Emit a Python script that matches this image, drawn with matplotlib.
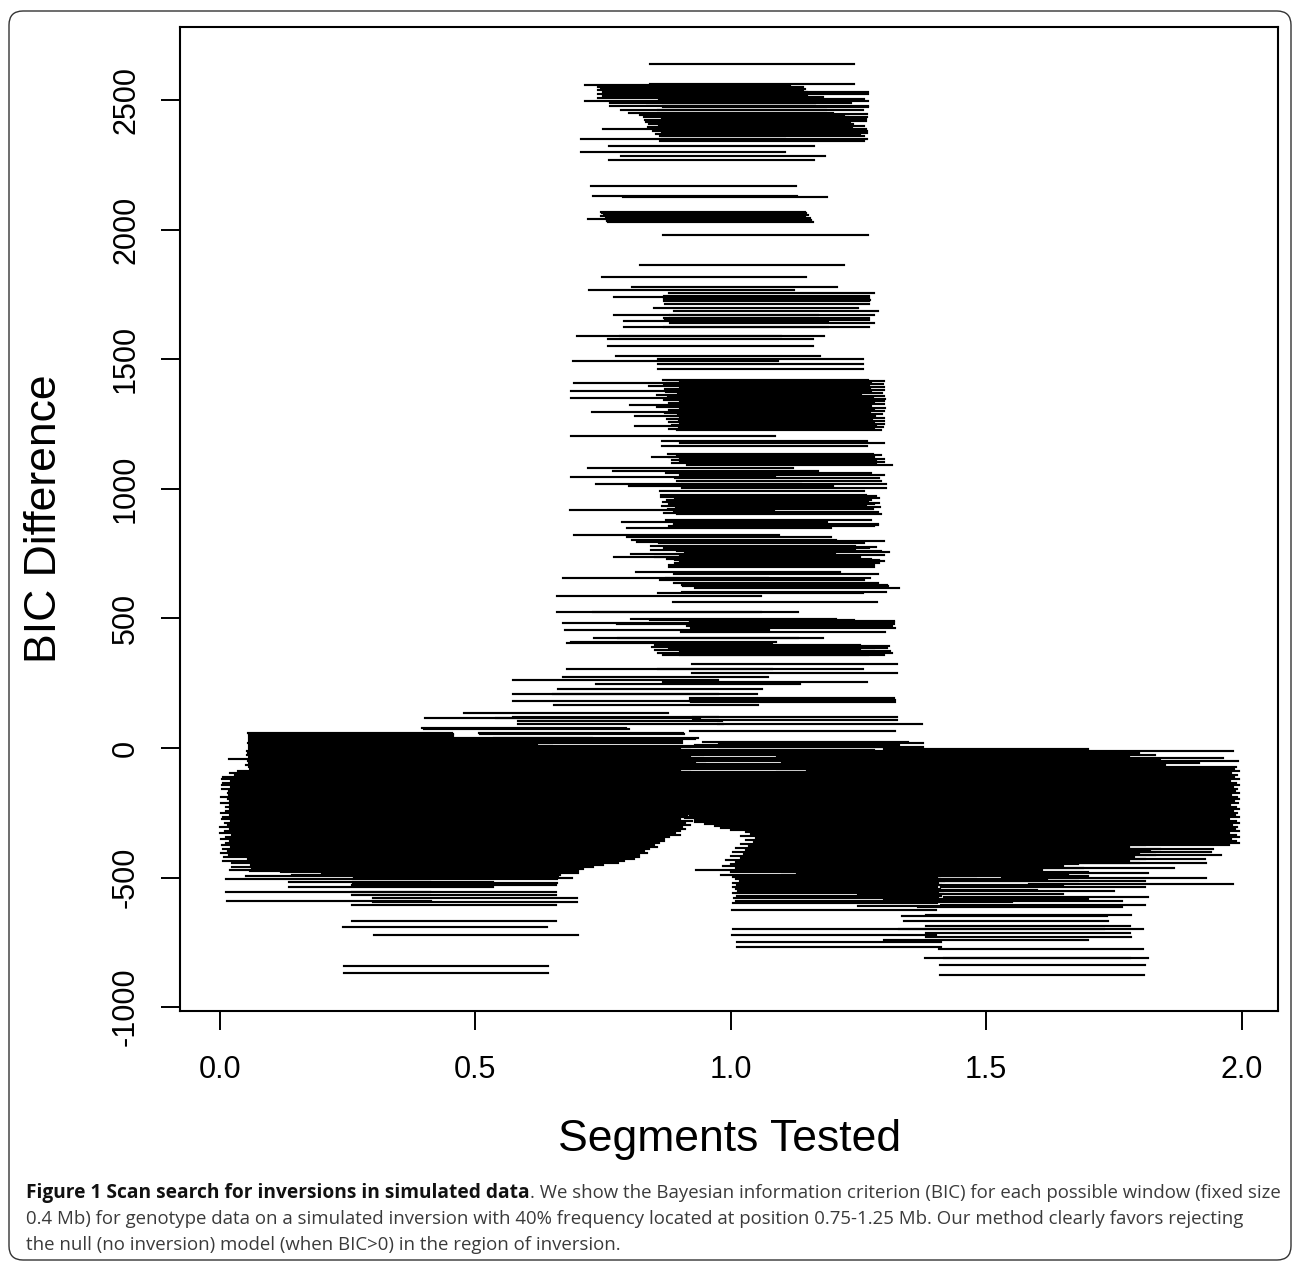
import numpy as np
import matplotlib
matplotlib.use("Agg")
import matplotlib.pyplot as plt
from matplotlib.collections import LineCollection
from matplotlib.patches import FancyBboxPatch
from matplotlib.transforms import IdentityTransform

# window size (Mb) of every tested segment
WINDOW = 0.4

# (window start in Mb, BIC difference)
hump_top = [
    (0.842, 2640), (0.842, 2563), (0.715, 2557), (0.741, 2550), (0.745, 2544), (0.741, 2538),
    (0.75, 2533), (0.868, 2530), (0.741, 2525), (0.868, 2522), (0.75, 2517), (0.78, 2512),
    (0.741, 2507), (0.86, 2505), (0.715, 2497), (0.868, 2497), (0.764, 2488), (0.836, 2490),
    (0.764, 2478), (0.868, 2478), (0.868, 2472), (0.786, 2460), (0.858, 2462), (0.8, 2452),
    (0.822, 2443), (0.866, 2446), (0.83, 2434), (0.866, 2436), (0.832, 2424), (0.865, 2428),
    (0.834, 2415), (0.865, 2418), (0.84, 2406), (0.837, 2398), (0.86, 2400), (0.749, 2388),
    (0.865, 2390), (0.848, 2379), (0.866, 2382), (0.853, 2369), (0.866, 2372), (0.861, 2360),
    (0.707, 2350), (0.866, 2351), (0.861, 2341), (0.762, 2323), (0.706, 2300), (0.785, 2284),
    (0.762, 2270), (0.727, 2170), (0.73, 2128), (0.789, 2126), (0.745, 2070), (0.748, 2064),
    (0.752, 2058), (0.746, 2052), (0.755, 2046), (0.72, 2041), (0.757, 2038), (0.758, 2032),
    (0.76, 2028), (0.868, 1978),
]

hump_upper = [
    (0.822, 1863), (0.747, 1819), (0.807, 1777), (0.723, 1768), (0.88, 1755), (0.772, 1742),
    (0.87, 1745), (0.87, 1738), (0.87, 1732), (0.872, 1727), (0.87, 1723), (0.871, 1713),
    (0.85, 1697), (0.889, 1688), (0.771, 1669), (0.881, 1670), (0.87, 1660), (0.79, 1649),
    (0.871, 1650), (0.881, 1641), (0.791, 1626), (0.87, 1626), (0.698, 1590), (0.783, 1590),
    (0.76, 1578), (0.76, 1552), (0.775, 1513), (0.858, 1502),
]

hump_mid = [
    (0.692, 1495), (0.858, 1481), (0.858, 1463), (0.868, 1420), (0.9, 1416), (0.694, 1410),
    (0.875, 1410), (0.898, 1405), (0.87, 1400), (0.839, 1395), (0.9, 1392), (0.872, 1387),
    (0.687, 1379), (0.9, 1381), (0.874, 1374), (0.896, 1369), (0.855, 1363), (0.9, 1360),
    (0.687, 1352), (0.878, 1355), (0.902, 1348), (0.87, 1343), (0.9, 1337), (0.88, 1331),
    (0.803, 1324), (0.9, 1327), (0.875, 1320), (0.855, 1314), (0.901, 1311), (0.88, 1305),
    (0.728, 1298), (0.9, 1299), (0.872, 1293), (0.897, 1287), (0.812, 1282), (0.882, 1280),
    (0.9, 1274), (0.876, 1268), (0.899, 1262), (0.88, 1256), (0.9, 1250), (0.812, 1243),
    (0.885, 1245), (0.898, 1238), (0.88, 1232), (0.895, 1228), (0.687, 1204), (0.866, 1186),
    (0.9, 1176), (0.866, 1166), (0.878, 1135), (0.895, 1130), (0.88, 1124), (0.845, 1121),
    (0.9, 1116), (0.885, 1110), (0.9, 1104), (0.885, 1099), (0.915, 1091), (0.721, 1082),
    (0.77, 1069), (0.874, 1060), (0.9, 1052), (0.687, 1045), (0.89, 1040), (0.894, 1031),
    (0.737, 1020), (0.904, 1020), (0.8, 1009), (0.904, 1002),
]

hump_low = [
    (0.861, 992), (0.864, 977), (0.885, 973), (0.864, 970), (0.89, 964), (0.875, 958),
    (0.868, 951), (0.89, 946), (0.88, 940), (0.865, 934), (0.892, 928), (0.878, 922),
    (0.685, 919), (0.888, 912), (0.87, 907), (0.894, 902), (0.874, 880), (0.788, 871),
    (0.888, 866), (0.888, 861), (0.88, 855), (0.797, 848), (0.694, 822), (0.797, 813),
    (0.806, 803), (0.9, 800), (0.816, 796), (0.86, 790), (0.844, 781), (0.885, 775),
    (0.87, 770), (0.844, 764), (0.895, 760), (0.91, 755), (0.804, 748), (0.9, 745),
    (0.772, 736), (0.852, 736), (0.875, 730), (0.891, 726), (0.9, 720), (0.891, 715),
    (0.88, 706), (0.88, 700), (0.814, 678), (0.888, 672), (0.672, 657), (0.873, 655),
    (0.861, 648), (0.888, 636), (0.905, 629), (0.907, 626), (0.929, 616), (0.904, 600),
    (0.858, 599), (0.659, 588), (0.886, 562), (0.659, 524), (0.731, 524), (0.805, 498),
    (0.842, 494), (0.92, 490), (0.92, 485), (0.672, 484), (0.778, 480), (0.92, 478),
    (0.915, 470), (0.922, 462), (0.675, 455), (0.902, 449), (0.732, 423), (0.78, 423),
    (0.688, 408), (0.68, 404), (0.852, 398), (0.91, 395), (0.845, 391), (0.88, 385),
    (0.905, 385), (0.852, 378), (0.912, 375), (0.9, 372), (0.858, 368), (0.915, 365),
    (0.868, 359), (0.9, 358), (0.925, 324), (0.68, 304), (0.858, 304), (0.925, 291),
    (0.672, 273), (0.574, 262), (0.867, 256), (0.736, 247), (0.662, 227), (0.574, 208),
    (0.651, 208), (0.92, 192), (0.921, 186), (0.574, 183), (0.92, 182), (0.922, 177),
    (0.653, 166), (0.478, 136), (0.574, 121), (0.926, 121), (0.54, 116), (0.401, 114),
    (0.926, 108), (0.583, 104), (0.584, 93), (0.975, 91), (0.395, 78), (0.4, 74),
    (0.921, 67), (0.507, 58), (0.509, 52), (0.536, 40), (0.328, 39), (0.505, 27),
    (0.946, 22), (0.977, 18), (0.977, 5),
]

left_edge = [
    (0.055, 58), (0.057, 55), (0.057, 50), (0.056, 43), (0.057, 35), (0.057, 27), (0.055, 19),
    (0.057, 12), (0.056, 4), (0.057, -4), (0.052, -12), (0.055, -19), (0.052, -27),
    (0.056, -35), (0.018, -42), (0.054, -50), (0.056, -58), (0.05, -66), (0.057, -73),
    (0.058, -81), (0.035, -89), (0.02, -96), (0.03, -104), (0.006, -112), (0.004, -120),
    (0.022, -127), (0.005, -135), (0.004, -143), (0.022, -150), (0.004, -158), (0.018, -166),
    (0.016, -174), (0.018, -181), (0.002, -189), (0.016, -197), (0.02, -204), (0.002, -212),
    (0.02, -220), (0.012, -228), (0.02, -235), (0.012, -243), (0.002, -251), (0.02, -258),
    (0.006, -266), (0.004, -274), (0.022, -282), (0.01, -289), (0.016, -297), (0.0, -305),
    (0.02, -312), (0.01, -320), (0.0, -328), (0.024, -336), (0.012, -343), (0.002, -351),
    (0.02, -359), (0.012, -366), (0.004, -374), (0.022, -382), (0.006, -390), (0.016, -397),
    (0.002, -405), (0.018, -413), (0.008, -420), (0.055, -428), (0.006, -436), (0.024, -444),
    (0.06, -451), (0.023, -459), (0.063, -467), (0.058, -475),
]

left_inner = [
    (0.1, 16), (0.14, 8), (0.09, 0), (0.12, -8), (0.15, -15), (0.1, -23), (0.13, -31),
    (0.08, -38), (0.11, -46), (0.14, -54), (0.09, -61), (0.12, -69), (0.15, -77), (0.1, -85),
    (0.13, -92), (0.08, -100), (0.11, -108), (0.14, -116), (0.09, -123), (0.12, -131),
    (0.15, -138), (0.1, -146), (0.13, -154), (0.08, -162), (0.11, -169), (0.14, -177),
    (0.09, -185), (0.12, -192), (0.15, -200), (0.1, -208), (0.13, -216), (0.08, -223),
    (0.11, -231), (0.14, -239), (0.09, -246), (0.12, -254), (0.15, -262), (0.1, -270),
    (0.13, -277), (0.08, -285), (0.11, -293), (0.14, -300), (0.09, -308), (0.12, -316),
    (0.15, -324), (0.1, -331), (0.13, -339), (0.08, -347), (0.11, -354), (0.14, -362),
    (0.09, -370), (0.12, -378), (0.15, -385), (0.1, -393), (0.13, -401), (0.08, -408),
    (0.11, -416), (0.14, -424), (0.09, -431), (0.12, -439), (0.1, -447), (0.13, -455),
    (0.09, -462),
]

left_mid = [
    (0.33, 36), (0.2, 28), (0.25, 20), (0.22, 12), (0.28, 5), (0.19, -3), (0.24, -11),
    (0.3, -18), (0.21, -26), (0.26, -34), (0.18, -41), (0.23, -49), (0.29, -57), (0.2, -64),
    (0.25, -72), (0.22, -80), (0.27, -88), (0.19, -95), (0.24, -103), (0.3, -111),
    (0.21, -118), (0.26, -126), (0.18, -134), (0.23, -141), (0.28, -149), (0.2, -157),
    (0.25, -165), (0.22, -172), (0.27, -180), (0.19, -188), (0.24, -195), (0.29, -203),
    (0.21, -211), (0.26, -218), (0.18, -226), (0.23, -234), (0.28, -241), (0.2, -249),
    (0.25, -257), (0.22, -265), (0.27, -272), (0.19, -280), (0.24, -288), (0.3, -295),
    (0.21, -303), (0.26, -311), (0.18, -318), (0.23, -326), (0.28, -334), (0.2, -342),
    (0.25, -349), (0.22, -357), (0.27, -365), (0.19, -372), (0.24, -380), (0.29, -388),
    (0.21, -395), (0.26, -403), (0.18, -411), (0.23, -418), (0.28, -426), (0.2, -434),
    (0.25, -441), (0.22, -449), (0.27, -457), (0.19, -464), (0.24, -472), (0.12, -480),
    (0.2, -487),
]

left_outer = [
    (0.36, 0), (0.34, -8), (0.39, -16), (0.35, -23), (0.37, -31), (0.4, -39), (0.34, -47),
    (0.38, -54), (0.36, -62), (0.39, -70), (0.35, -78), (0.37, -85), (0.4, -93), (0.34, -101),
    (0.38, -108), (0.36, -116), (0.39, -124), (0.35, -132), (0.37, -139), (0.4, -147),
    (0.34, -155), (0.38, -163), (0.36, -170), (0.39, -178), (0.35, -186), (0.37, -194),
    (0.4, -201), (0.34, -209), (0.38, -217), (0.36, -225), (0.39, -232), (0.35, -240),
    (0.37, -248), (0.4, -256), (0.34, -263), (0.38, -271), (0.36, -279), (0.39, -287),
    (0.35, -294), (0.37, -302), (0.36, -310), (0.34, -318), (0.35, -326), (0.33, -334),
    (0.36, -341), (0.32, -349), (0.35, -357), (0.33, -364), (0.31, -372), (0.34, -380),
    (0.3, -388), (0.32, -395), (0.29, -403), (0.31, -411), (0.28, -418),
]

left_right = [
    (0.53, 35), (0.505, 19), (0.54, 8), (0.52, 2), (0.5, -4), (0.53, -12), (0.51, -19),
    (0.545, -27), (0.52, -35), (0.5, -42), (0.55, -50),
    (0.53, -58), (0.51, -66), (0.54, -73), (0.52, -81), (0.5, -89), (0.545, -96),
    (0.525, -104), (0.51, -112), (0.54, -120), (0.52, -127), (0.5, -135), (0.535, -143),
    (0.515, -150), (0.53, -158), (0.5, -166), (0.54, -174), (0.52, -181), (0.51, -189),
    (0.535, -197), (0.52, -204), (0.5, -212), (0.53, -220), (0.515, -228), (0.525, -235),
    (0.5, -243), (0.53, -251), (0.515, -258), (0.52, -266), (0.5, -274), (0.525, -282),
    (0.51, -289), (0.52, -297), (0.505, -305), (0.51, -312), (0.5, -320), (0.49, -328),
    (0.5, -336), (0.48, -343), (0.47, -351), (0.47, -359), (0.46, -366), (0.45, -374),
    (0.455, -382), (0.44, -390), (0.43, -397), (0.435, -405), (0.42, -413), (0.42, -420),
    (0.41, -428), (0.39, -436), (0.38, -444), (0.35, -451), (0.33, -459), (0.31, -467),
    (0.3, -475), (0.3, -482), (0.265, -490), (0.262, -498), (0.26, -505),
]

left_tail = [
    (0.02, -470), (0.14, -490), (0.05, -495), (0.29, -500), (0.011, -507), (0.135, -516),
    (0.26, -520), (0.258, -529), (0.135, -535), (0.012, -556), (0.258, -556), (0.258, -567),
    (0.299, -578), (0.013, -591), (0.299, -593), (0.258, -607), (0.258, -668), (0.241, -690),
    (0.301, -722), (0.243, -841), (0.243, -868),
]

right_left = [
    (0.93, 10), (0.9, 2), (0.88, -6), (0.89, -14), (0.9, -21), (0.875, -29), (0.895, -37),
    (0.88, -45), (0.9, -52), (0.885, -60), (0.9, -68), (0.875, -76), (0.895, -83),
    (0.88, -91), (0.9, -99), (0.89, -107), (0.875, -114), (0.9, -122), (0.885, -130),
    (0.9, -138), (0.875, -145), (0.895, -153), (0.88, -161), (0.9, -169), (0.89, -176),
    (0.875, -184), (0.9, -192), (0.885, -200), (0.9, -207), (0.88, -215), (0.895, -223),
    (0.885, -231), (0.9, -238), (0.89, -246), (0.9, -254), (0.92, -262), (0.91, -269),
    (0.93, -277), (0.93, -285), (0.95, -293), (0.97, -300), (0.98, -308), (1.0, -316),
    (1.03, -323), (1.04, -331), (1.02, -339), (1.05, -347), (1.03, -354), (1.045, -362),
    (1.02, -370), (1.035, -378), (1.01, -385), (1.03, -393), (1.005, -401), (1.025, -409),
    (1.0, -416), (1.02, -424), (0.99, -432), (1.01, -440), (1.0, -447), (0.985, -455),
    (1.01, -463), (0.932, -471), (1.0, -478), (0.98, -490), (1.004, -497), (1.01, -505),
    (1.018, -512), (1.005, -520), (1.012, -528), (1.004, -537), (1.01, -545), (1.015, -553),
    (1.005, -561), (1.012, -570), (1.006, -580), (1.01, -590), (1.004, -600),
]

right_inner = [
    (1.1, -15), (1.14, -23), (1.09, -31), (1.12, -38), (1.16, -46), (1.1, -54), (1.13, -62),
    (1.08, -69), (1.11, -77), (1.15, -85), (1.09, -92), (1.12, -100), (1.16, -108),
    (1.1, -116), (1.13, -123), (1.08, -131), (1.11, -139), (1.15, -146), (1.09, -154),
    (1.12, -162), (1.16, -170), (1.1, -177), (1.13, -185), (1.08, -193), (1.11, -200),
    (1.15, -208), (1.09, -216), (1.12, -224), (1.16, -231), (1.1, -239), (1.13, -247),
    (1.08, -254), (1.11, -262), (1.15, -270), (1.09, -278), (1.12, -285), (1.16, -293),
    (1.1, -301), (1.13, -308), (1.08, -316), (1.11, -324), (1.15, -331), (1.09, -339),
    (1.12, -347), (1.16, -355), (1.1, -362), (1.13, -370), (1.08, -378), (1.11, -385),
    (1.15, -393), (1.09, -401), (1.12, -409), (1.16, -416), (1.1, -424), (1.13, -432),
    (1.08, -439), (1.11, -447), (1.15, -455), (1.09, -463), (1.12, -470), (1.1, -478),
    (1.13, -486), (1.08, -494),
]

right_mid = [
    (1.3, -3), (1.25, -11), (1.29, -18), (1.22, -26), (1.28, -34), (1.3, -41), (1.24, -49),
    (1.3, -57), (1.21, -64), (1.27, -72), (1.29, -80), (1.23, -88), (1.29, -95), (1.2, -103),
    (1.3, -111), (1.26, -118), (1.28, -126), (1.22, -134), (1.28, -141), (1.3, -149),
    (1.24, -157), (1.29, -165), (1.2, -172), (1.27, -180), (1.3, -188), (1.23, -195),
    (1.28, -203), (1.25, -211), (1.29, -218), (1.21, -226), (1.3, -234), (1.26, -241),
    (1.29, -249), (1.22, -257), (1.28, -265), (1.3, -272), (1.24, -280), (1.29, -288),
    (1.2, -295), (1.27, -303), (1.3, -311), (1.23, -318), (1.28, -326), (1.25, -334),
    (1.29, -342), (1.21, -349), (1.3, -357), (1.26, -365), (1.29, -372), (1.22, -380),
    (1.28, -388), (1.3, -395), (1.24, -403), (1.29, -411), (1.2, -418), (1.27, -426),
    (1.3, -434), (1.23, -441), (1.28, -449), (1.25, -457), (1.29, -464), (1.21, -472),
    (1.3, -480), (1.26, -488), (1.3, -495), (1.22, -505), (1.28, -515), (1.25, -528),
]

right_outer = [
    (1.4, -19), (1.43, -27), (1.38, -35), (1.44, -43), (1.41, -50), (1.39, -58), (1.45, -66),
    (1.42, -73), (1.38, -81), (1.44, -89), (1.4, -97), (1.43, -104), (1.39, -112),
    (1.45, -120), (1.41, -128), (1.38, -135), (1.44, -143), (1.42, -151), (1.4, -159),
    (1.43, -166), (1.39, -174), (1.45, -182), (1.41, -189), (1.38, -197), (1.44, -205),
    (1.42, -212), (1.4, -220), (1.43, -228), (1.39, -236), (1.45, -243), (1.41, -251),
    (1.38, -259), (1.44, -266), (1.42, -274), (1.4, -282), (1.43, -290), (1.39, -297),
    (1.45, -305), (1.41, -313), (1.38, -320), (1.44, -328), (1.42, -336), (1.4, -344),
    (1.43, -351), (1.39, -359), (1.45, -366), (1.41, -374), (1.38, -382), (1.44, -390),
    (1.42, -397), (1.4, -405), (1.43, -413), (1.39, -420), (1.41, -428), (1.38, -436),
    (1.4, -444),
]

right_edge = [
    (1.584, -10), (1.564, -39), (1.593, -50), (1.517, -58), (1.435, -66), (1.59, -74),
    (1.585, -81), (1.594, -89), (1.58, -97), (1.592, -104), (1.586, -112), (1.594, -120),
    (1.578, -128), (1.59, -135), (1.594, -143), (1.583, -151), (1.592, -159), (1.588, -166),
    (1.594, -174), (1.58, -182), (1.591, -189), (1.594, -197), (1.585, -205), (1.593, -212),
    (1.578, -220), (1.59, -228), (1.594, -236), (1.584, -243), (1.592, -251), (1.588, -259),
    (1.594, -266), (1.576, -274), (1.59, -282), (1.594, -290), (1.582, -297), (1.592, -305),
    (1.587, -313), (1.594, -320), (1.575, -328), (1.59, -336), (1.594, -344), (1.58, -351),
    (1.59, -359), (1.594, -366), (1.576, -374), (1.545, -390), (1.541, -401), (1.56, -413),
    (1.529, -428), (1.531, -444), (1.468, -463), (1.417, -482), (1.531, -502), (1.411, -513),
    (1.584, -525), (1.411, -537),
]

right_tail = [
    (1.2, -548), (1.35, -552), (1.25, -565), (1.417, -575), (1.3, -582), (1.366, -591),
    (1.15, -596), (1.411, -606), (1.25, -610), (1.366, -614), (1.002, -625), (1.383, -645),
    (1.336, -649), (1.339, -668), (1.382, -687), (1.004, -697), (1.33, -700), (1.407, -699),
    (1.382, -714), (1.002, -722), (1.383, -730), (1.3, -740), (1.012, -749), (1.012, -768),
    (1.407, -776), (1.381, -811), (1.417, -811), (1.41, -838), (1.409, -876),
]

groups = [hump_top, hump_upper, hump_mid, hump_low, left_edge, left_inner, left_mid,
          left_outer, left_right, left_tail, right_left, right_inner, right_mid,
          right_outer, right_edge, right_tail]
pts = np.array([p for g in groups for p in g], dtype=float)
starts, bic = pts[:, 0], pts[:, 1]
segs = [[(s, b), (s + WINDOW, b)] for s, b in zip(starts, bic)]

W, H = 1293, 1262
fig = plt.figure(figsize=(W / 100, H / 100), dpi=100)
plt.rcParams['font.family'] = ['Liberation Sans', 'DejaVu Sans']

ax = fig.add_axes([180 / W, 251 / H, 1098 / W, 984 / H])
ax.add_collection(LineCollection(segs, colors='black', linewidths=1.55,
                                 capstyle='projecting'))
ax.set_xlim(-0.0783, 2.0713)
ax.set_ylim(-1015, 2782)

ax.set_xticks([0, 0.5, 1.0, 1.5, 2.0])
ax.set_xticklabels(["0.0", "0.5", "1.0", "1.5", "2.0"])
ax.set_yticks([-1000, -500, 0, 500, 1000, 1500, 2000, 2500])
ax.set_yticklabels(["-1000", "-500", "0", "500", "1000", "1500", "2000", "2500"])
ax.tick_params(length=14, width=1.4, labelsize=22, direction='out')
ax.tick_params(axis='x', pad=18)
ax.tick_params(axis='y', pad=14)
for lab in ax.get_yticklabels():
    lab.set_rotation(90)
    lab.set_va('center')
for sp in ax.spines.values():
    sp.set_linewidth(1.5)

fig.text(730 / W, 1 - 1140 / H, "Segments Tested", ha='center', va='center', fontsize=32)
fig.text(45 / W, 1 - 519 / H, "BIC Difference", ha='center', va='center',
         rotation=90, fontsize=32)

# caption below the figure
cap_font = ['Open Sans', 'DejaVu Sans']
cap_size = 13.4
x0 = 26 / W
t1 = fig.text(x0, 1 - 1198 / H, "Figure 1 Scan search for inversions in simulated data",
              fontsize=13.8, fontweight='bold', family=cap_font, color='#111111',
              va='baseline')
fig.canvas.draw()
bb = t1.get_window_extent()
fig.text(bb.x1 / W, 1 - 1198 / H,
         ". We show the Bayesian information criterion (BIC) for each possible window (fixed size",
         fontsize=cap_size, family=cap_font, color='#3a3a3a', va='baseline')
fig.text(x0, 1 - 1224 / H,
         "0.4 Mb) for genotype data on a simulated inversion with 40% frequency located at "
         "position 0.75-1.25 Mb. Our method clearly favors rejecting",
         fontsize=cap_size, family=cap_font, color='#3a3a3a', va='baseline')
fig.text(x0, 1 - 1250 / H,
         "the null (no inversion) model (when BIC>0) in the region of inversion.",
         fontsize=cap_size, family=cap_font, color='#3a3a3a', va='baseline')

frame = FancyBboxPatch((9, 2), 1282, 1249, boxstyle="round,pad=0,rounding_size=14",
                       transform=IdentityTransform(), fill=False, edgecolor='#333333',
                       linewidth=1.0)
fig.patches.append(frame)

fig.savefig("out.png", dpi=100)
